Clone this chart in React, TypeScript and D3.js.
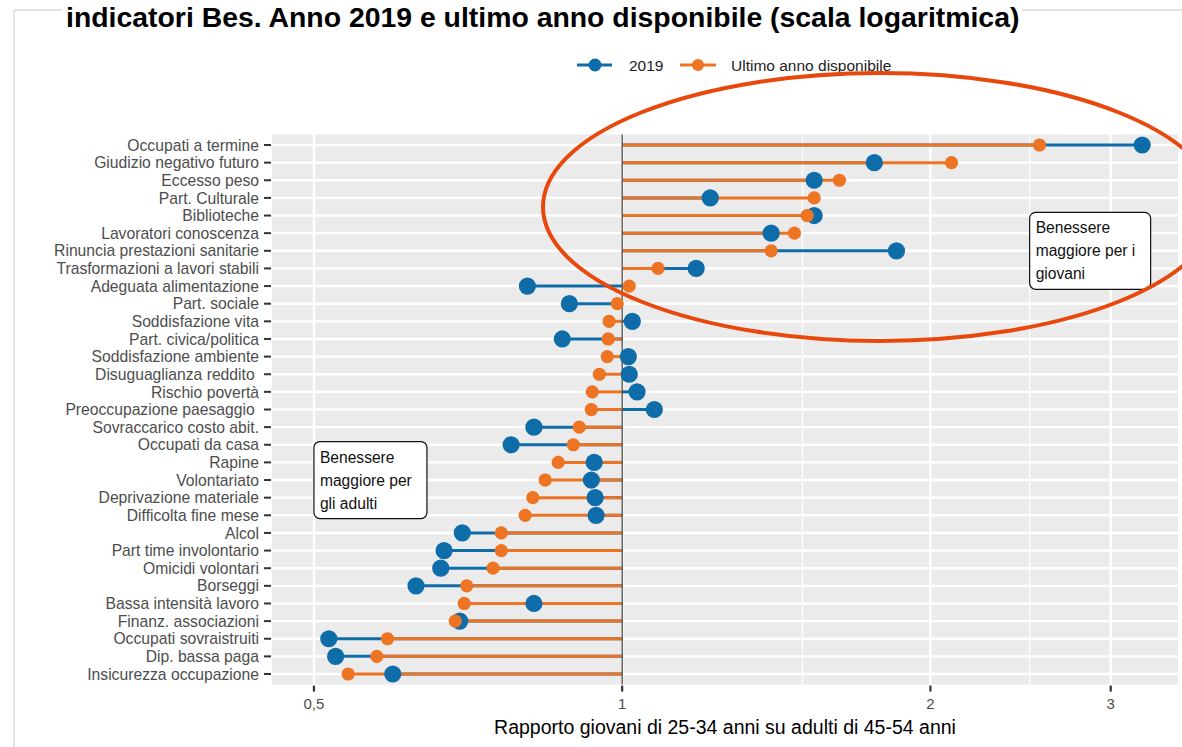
import React from "react";
import * as d3 from "d3";

const categories = [
  "Occupati a termine",
  "Giudizio negativo futuro",
  "Eccesso peso",
  "Part. Culturale",
  "Biblioteche",
  "Lavoratori conoscenza",
  "Rinuncia prestazioni sanitarie",
  "Trasformazioni a lavori stabili",
  "Adeguata alimentazione",
  "Part. sociale",
  "Soddisfazione vita",
  "Part. civica/politica",
  "Soddisfazione ambiente",
  "Disuguaglianza reddito ",
  "Rischio povertà",
  "Preoccupazione paesaggio ",
  "Sovraccarico costo abit.",
  "Occupati da casa",
  "Rapine",
  "Volontariato",
  "Deprivazione materiale",
  "Difficolta fine mese",
  "Alcol",
  "Part time involontario",
  "Omicidi volontari",
  "Borseggi",
  "Bassa intensità lavoro",
  "Finanz. associazioni",
  "Occupati sovraistruiti",
  "Dip. bassa paga",
  "Insicurezza occupazione",
];

const values2019 = [
  3.22, 1.763, 1.54, 1.219, 1.54, 1.398, 1.853, 1.181, 0.808, 0.888, 1.023,
  0.874, 1.014, 1.016, 1.034, 1.075, 0.82, 0.779, 0.939, 0.933, 0.941, 0.943,
  0.698, 0.67, 0.665, 0.629, 0.82, 0.694, 0.517, 0.525, 0.597,
];

const valuesLatest = [
  2.556, 2.097, 1.63, 1.54, 1.516, 1.473, 1.398, 1.084, 1.016, 0.989, 0.971,
  0.969, 0.967, 0.95, 0.935, 0.933, 0.908, 0.896, 0.866, 0.841, 0.818, 0.804,
  0.762, 0.762, 0.748, 0.705, 0.701, 0.687, 0.59, 0.576, 0.54,
];

const xTicks = [0.5, 1, 2, 3];
const xTickLabels = ["0,5", "1", "2", "3"];
const xMinorTicks = [1.5, 2.5];

const seriesNames = ["2019", "Ultimo anno disponibile"];

const annotationRight = { x: 2.5, row: "Rinuncia prestazioni sanitarie", lines: ["Benessere", "maggiore per i", "giovani"] };
const annotationLeft = { x: 0.5, row: "Volontariato", lines: ["Benessere", "maggiore per", "gli adulti"] };

const title = "indicatori Bes. Anno 2019 e ultimo anno disponibile (scala logaritmica)";
const xTitle = "Rapporto giovani di 25-34 anni su adulti di 45-54 anni";

const BLUE = "#0E6DA8";
const ORANGE = "#EC7422";
const FONT = "'Liberation Sans', Arial, sans-serif";

export default function App() {
  const W = 1182;
  const H = 747;
  const panel = { left: 272, right: 1178, top: 134.4, bottom: 684.6 };

  const x = d3.scaleLog().base(2).domain([0.455, 3.49]).range([panel.left, panel.right]);
  const y = d3
    .scalePoint<string>()
    .domain(categories)
    .range([145, 674]);

  const x1 = x(1);

  const renderBox = (a: { x: number; row: string; lines: string[] }, key: string) => {
    const bx = x(a.x);
    const cy = y(a.row) as number;
    const bw = key === "r" ? 121 : 113;
    const bh = 77;
    return (
      <g key={key}>
        <rect x={bx} y={cy - bh / 2} width={bw} height={bh} rx={6} ry={6} fill="#fff" stroke="#111" strokeWidth={1.2} />
        {a.lines.map((l, i) => (
          <text key={i} x={bx + 6} y={cy + (i - 1) * 23} dy="0.36em" fontSize={15.6} fill="#111" fontFamily={FONT}>
            {l}
          </text>
        ))}
      </g>
    );
  };

  return (
    <svg width={W} height={H} style={{ position: "absolute", left: 0, top: 0, background: "#fff" }}>
      {/* frame lines */}
      <line x1={14} x2={14} y1={10} y2={H} stroke="#E4E4E4" strokeWidth={2} />
      <line x1={14} x2={W} y1={10} y2={10} stroke="#E4E4E4" strokeWidth={2} />

      {/* title */}
      <rect x={62} y={0} width={960} height={36} fill="#fff" />
      <text x={66} y={27} fontSize={28.4} fontWeight="bold" fill="#000" fontFamily={FONT}>
        {title}
      </text>

      {/* legend */}
      <g fontFamily={FONT} fontSize={15.5} fill="#222">
        <line x1={577} x2={612} y1={65} y2={65} stroke={BLUE} strokeWidth={3} />
        <circle cx={595} cy={65} r={6.5} fill={BLUE} />
        <text x={629} y={65} dy="0.36em">{seriesNames[0]}</text>
        <line x1={680} x2={716} y1={65} y2={65} stroke={ORANGE} strokeWidth={3} />
        <circle cx={698} cy={65} r={6} fill={ORANGE} />
        <text x={731} y={65} dy="0.36em">{seriesNames[1]}</text>
      </g>

      {/* panel */}
      <rect x={panel.left} y={panel.top} width={panel.right - panel.left} height={panel.bottom - panel.top} fill="#EBEBEB" />
      {xMinorTicks.map((t) => (
        <line key={"mn" + t} x1={x(t)} x2={x(t)} y1={panel.top} y2={panel.bottom} stroke="#fff" strokeWidth={1.2} />
      ))}
      {xTicks.map((t) => (
        <line key={"mj" + t} x1={x(t)} x2={x(t)} y1={panel.top} y2={panel.bottom} stroke="#fff" strokeWidth={2.4} />
      ))}
      {categories.map((c) => (
        <line key={"h" + c} x1={panel.left} x2={panel.right} y1={y(c)} y2={y(c)} stroke="#fff" strokeWidth={2.4} />
      ))}

      {/* segments */}
      {categories.map((c, i) => (
        <line key={"sb" + c} x1={x1} x2={x(values2019[i])} y1={y(c)} y2={y(c)} stroke={BLUE} strokeWidth={3} />
      ))}
      {categories.map((c, i) => (
        <line key={"so" + c} x1={x1} x2={x(valuesLatest[i])} y1={y(c)} y2={y(c)} stroke={ORANGE} strokeWidth={3} />
      ))}

      {/* reference line at 1 */}
      <line x1={x1} x2={x1} y1={panel.top} y2={panel.bottom} stroke="#555" strokeWidth={1.4} />

      {/* points */}
      {categories.map((c, i) => (
        <circle key={"pb" + c} cx={x(values2019[i])} cy={y(c)} r={8.6} fill={BLUE} />
      ))}
      {categories.map((c, i) => (
        <circle key={"po" + c} cx={x(valuesLatest[i])} cy={y(c)} r={6.6} fill={ORANGE} />
      ))}

      {/* annotations */}
      {renderBox(annotationRight, "r")}
      {renderBox(annotationLeft, "l")}

      {/* y axis */}
      <g fontFamily={FONT} fontSize={15.7} fill="#4D4D4D">
        {categories.map((c) => (
          <g key={"yt" + c}>
            <line x1={264} x2={271} y1={y(c)} y2={y(c)} stroke="#333" strokeWidth={2} />
            <text x={259} y={y(c)} dy="0.36em" textAnchor="end" style={{ whiteSpace: "pre" }}>
              {c}
            </text>
          </g>
        ))}
      </g>

      {/* x axis */}
      <g fontFamily={FONT} fontSize={15} fill="#4D4D4D">
        {xTicks.map((t, i) => (
          <g key={"xt" + t}>
            <line x1={x(t)} x2={x(t)} y1={panel.bottom + 1} y2={panel.bottom + 7} stroke="#333" strokeWidth={2.2} />
            <text x={x(t)} y={704} dy="0.36em" textAnchor="middle">
              {xTickLabels[i]}
            </text>
          </g>
        ))}
      </g>
      <text x={(panel.left + panel.right) / 2} y={727} dy="0.36em" textAnchor="middle" fontSize={19.5} fill="#000" fontFamily={FONT}>
        {xTitle}
      </text>

      {/* highlight ellipse */}
      <ellipse cx={880} cy={207} rx={337} ry={134} fill="none" stroke="#E8480C" strokeWidth={4} />
    </svg>
  );
}
